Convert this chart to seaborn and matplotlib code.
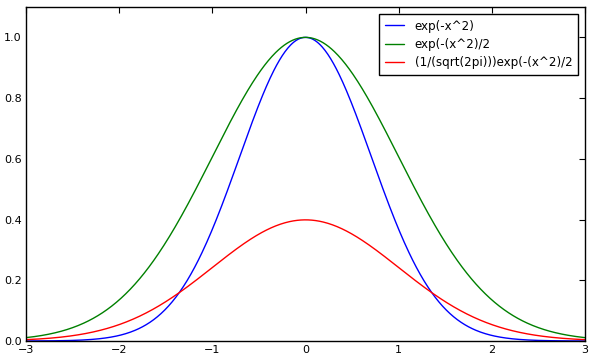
import numpy as np
import pandas as pd
import matplotlib
matplotlib.use("Agg")
import matplotlib.pyplot as plt
import seaborn as sns

# Series definitions (as named in the legend)
labels = ["exp(-x^2)", "exp(-(x^2)/2", "(1/(sqrt(2pi)))exp(-(x^2)/2"]
colors = ["#0000ff", "#008000", "#ff0000"]
x = np.linspace(-3, 3, 601)
y_a = np.exp(-x**2)
y_b = np.exp(-(x**2) / 2)
y_c = (1 / np.sqrt(2 * np.pi)) * np.exp(-(x**2) / 2)
xticks = [-3, -2, -1, 0, 1, 2, 3]
yticks = [0.0, 0.2, 0.4, 0.6, 0.8, 1.0]

df = pd.concat([
    pd.DataFrame({"x": x, "y": y_a, "series": labels[0]}),
    pd.DataFrame({"x": x, "y": y_b, "series": labels[1]}),
    pd.DataFrame({"x": x, "y": y_c, "series": labels[2]}),
])

sns.set_style("white")
plt.rcParams.update({
    "font.family": ["DejaVu Sans"],
    "text.color": "black",
    "xtick.direction": "in", "ytick.direction": "in",
    "xtick.top": True, "ytick.right": True,
    "xtick.major.size": 4, "ytick.major.size": 4,
    "axes.edgecolor": "black", "axes.linewidth": 1.0,
})

fig = plt.figure(figsize=(5.93, 3.63), dpi=100)
ax = fig.add_axes([26/593, 22/363, 559/593, 334/363])
sns.lineplot(data=df, x="x", y="y", hue="series", hue_order=labels,
             palette=colors, ax=ax, linewidth=1.0, estimator=None, sort=False)
ax.set_xlim(-3, 3)
ax.set_ylim(0, 1.1)
ax.set_xticks(xticks)
ax.set_xticklabels(["\u22123", "\u22122", "\u22121", "0", "1", "2", "3"])
ax.set_yticks(yticks)
ax.set_yticklabels(["0.0", "0.2", "0.4", "0.6", "0.8", "1.0"])
ax.tick_params(labelsize=8, width=0.8, color="black", labelcolor="black", pad=3)
ax.set_xlabel("")
ax.set_ylabel("")
for s in ax.spines.values():
    s.set_visible(True)
    s.set_color("black")
leg = ax.legend(loc="upper right", fontsize=8.6, fancybox=False, framealpha=1,
                edgecolor="black", borderpad=0.45, handlelength=1.6,
                handletextpad=0.9, labelspacing=0.45, borderaxespad=0.6)
for t in leg.get_texts():
    t.set_color("black")
leg.get_frame().set_linewidth(1.0)
fig.savefig("out.png", dpi=100)
